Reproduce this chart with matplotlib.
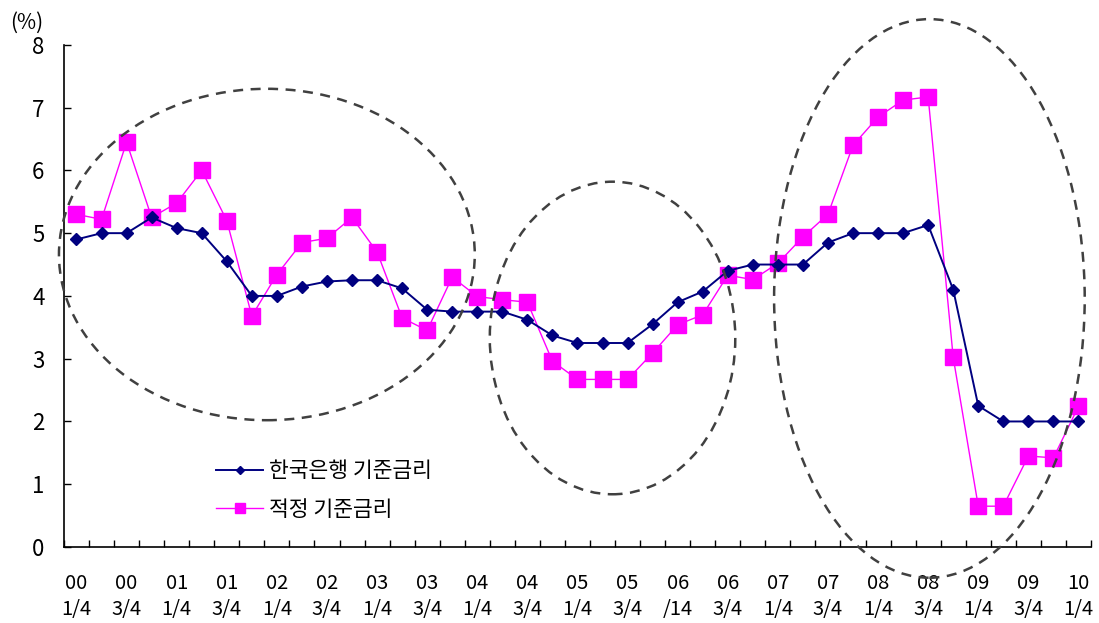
import numpy as np
import matplotlib
matplotlib.use("Agg")
import matplotlib.pyplot as plt
from matplotlib.patches import Ellipse

plt.rcParams["font.family"] = ["Noto Sans CJK KR", "DejaVu Sans"]

# quarters 2000 Q1 .. 2010 Q1, labelled every second quarter
tick_labels = [
    "00\n1/4", "00\n3/4", "01\n1/4", "01\n3/4", "02\n1/4", "02\n3/4",
    "03\n1/4", "03\n3/4", "04\n1/4", "04\n3/4", "05\n1/4", "05\n3/4",
    "06\n/14", "06\n3/4", "07\n1/4", "07\n3/4", "08\n1/4", "08\n3/4",
    "09\n1/4", "09\n3/4", "10\n1/4",
]

bok_rate = [
    4.90, 5.00, 5.00, 5.25, 5.08, 5.00, 4.55, 4.00, 4.00, 4.15,
    4.23, 4.25, 4.25, 4.12, 3.78, 3.75, 3.75, 3.75, 3.62, 3.37,
    3.25, 3.25, 3.25, 3.55, 3.90, 4.07, 4.40, 4.50, 4.50, 4.50,
    4.85, 5.00, 5.00, 5.00, 5.13, 4.10, 2.25, 2.00, 2.00, 2.00,
    2.00,
]
optimal_rate = [
    5.30, 5.22, 6.45, 5.25, 5.48, 6.00, 5.20, 3.68, 4.34, 4.85,
    4.92, 5.25, 4.70, 3.65, 3.45, 4.30, 3.99, 3.94, 3.90, 2.96,
    2.67, 2.67, 2.67, 3.09, 3.54, 3.70, 4.33, 4.26, 4.52, 4.94,
    5.30, 6.40, 6.85, 7.12, 7.17, 3.02, 0.65, 0.65, 1.45, 1.42,
    2.24,
]

# highlighted regions: (center x, center y, width, height) in data units
ellipses = [
    (7.6, 4.66, 16.6, 5.28),
    (21.4, 3.33, 9.8, 4.98),
    (34.05, 3.96, 12.4, 8.9),
]

x = np.arange(len(bok_rate))

fig = plt.figure(figsize=(10.99, 6.23), dpi=100)
ax = fig.add_axes([0.0582, 0.122, 0.9345, 0.806])

ax.plot(x, bok_rate, color="#000080", lw=1.4, marker="D", ms=6.5,
        label="한국은행 기준금리", zorder=4)
ax.plot(x, optimal_rate, color="#FF00FF", lw=1.0, marker="s", ms=11,
        label="적정 기준금리", zorder=3)

for cx, cy, w, h in ellipses:
    e = Ellipse((cx, cy), w, h, fill=False, edgecolor="#404040", lw=1.8,
                linestyle=(0, (4, 3)), clip_on=False, zorder=5)
    ax.add_patch(e)

ax.set_xlim(-0.5, len(x) - 0.5)
ax.set_ylim(0, 8)
ax.spines["top"].set_visible(False)
ax.spines["right"].set_visible(False)
ax.spines["left"].set_linewidth(1.2)
ax.spines["bottom"].set_linewidth(1.2)

ax.set_xticks(np.arange(0, len(x), 2))
ax.set_xticklabels(tick_labels, fontsize=14.5, linespacing=1.3)
ax.set_xticks(np.arange(-0.5, len(x), 1), minor=True)
ax.tick_params(axis="x", which="major", length=0, pad=19)
ax.tick_params(axis="x", which="minor", direction="in", length=5, width=1)

ax.set_yticks(np.arange(0, 9, 1))
ax.tick_params(axis="y", direction="in", length=5, width=1, labelsize=16, pad=14)

fig.text(0.009, 0.953, "(%)", fontsize=15)

ax.legend(loc="lower left", bbox_to_anchor=(0.129, 0.014), frameon=False,
          fontsize=15.5, handlelength=2.2, handletextpad=0.25, labelspacing=0.75,
          markerscale=0.6)

fig.savefig("out.png", dpi=100)
